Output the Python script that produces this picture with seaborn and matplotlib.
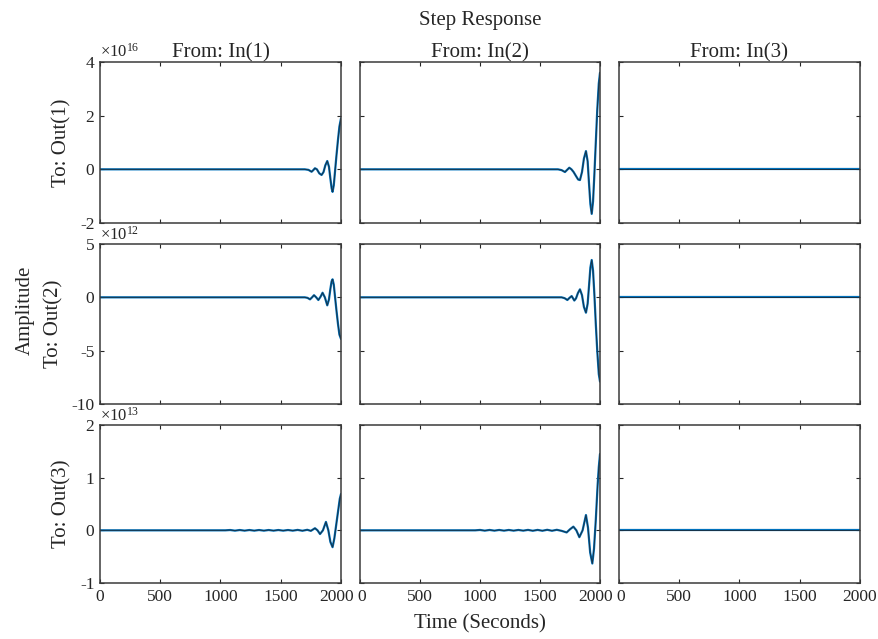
import matplotlib
matplotlib.use('Agg')
import matplotlib.pyplot as plt
import matplotlib.transforms as mtransforms
import seaborn as sns
import pandas as pd
import numpy as np

# step response data (values in units of 10^exp per row)
t11 = [0, 1700, 1730, 1756, 1770, 1784, 1800, 1820, 1839, 1855, 1870, 1886, 1900,
       1912, 1922, 1930, 1940, 1950, 1962, 1975, 1987, 2000]
v11 = [0, 0, -0.02, -0.09, -0.03, 0.04, 0.0, -0.15, -0.21, -0.1, 0.15, 0.31, 0.1,
       -0.35, -0.7, -0.84, -0.6, -0.1, 0.5, 1.1, 1.6, 1.9]

t12 = [0, 1650, 1680, 1708, 1726, 1744, 1762, 1780, 1800, 1818, 1833, 1850, 1866,
       1883, 1897, 1908, 1920, 1931, 1942, 1953, 1965, 1977, 1990, 2000]
v12 = [0, 0, -0.03, -0.1, -0.02, 0.06, 0.0, -0.1, -0.25, -0.38, -0.4, -0.1, 0.4,
       0.68, 0.3, -0.5, -1.3, -1.66, -1.2, -0.2, 1.0, 2.2, 3.2, 3.6]

t21 = [0, 1700, 1722, 1743, 1760, 1776, 1794, 1812, 1830, 1847, 1866, 1886, 1900,
       1912, 1922, 1930, 1940, 1950, 1962, 1975, 1987, 2000]
v21 = [0, 0, -0.05, -0.19, 0.0, 0.2, 0.0, -0.25, 0.05, 0.43, 0.0, -0.75, -0.2,
       0.8, 1.5, 1.69, 1.2, 0.1, -1.2, -2.5, -3.5, -3.9]

t22 = [0, 1680, 1705, 1728, 1746, 1764, 1786, 1800, 1816, 1833, 1850, 1866, 1883,
       1897, 1908, 1920, 1931, 1942, 1953, 1965, 1977, 1990, 2000]
v22 = [0, 0, -0.08, -0.25, -0.05, 0.12, -0.3, -0.1, 0.4, 0.75, 0.2, -0.9, -1.44,
       -0.6, 1.0, 2.8, 3.5, 2.5, 0.3, -2.5, -5.0, -7.2, -7.9]

t31 = [0, 1040, 1080, 1120, 1160, 1200, 1240, 1280, 1320, 1360, 1400, 1440, 1480,
       1520, 1560, 1600, 1640, 1680, 1720, 1750, 1784, 1805, 1826, 1850, 1875,
       1895, 1912, 1930, 1945, 1960, 1975, 1990, 2000]
v31 = [0, 0, 0.006, -0.006, 0.006, -0.006, 0.006, -0.006, 0.006, -0.006, 0.006,
       -0.006, 0.006, -0.006, 0.006, -0.006, 0.008, -0.008, 0.01, -0.01, 0.04, 0.0,
       -0.07, 0.0, 0.16, 0.0, -0.22, -0.32, -0.15, 0.1, 0.35, 0.6, 0.69]

t32 = [0, 960, 1000, 1040, 1080, 1120, 1160, 1200, 1240, 1280, 1320, 1360, 1400,
       1440, 1480, 1520, 1560, 1600, 1640, 1680, 1722, 1750, 1778, 1803, 1828,
       1855, 1883, 1900, 1918, 1936, 1950, 1965, 1980, 1990, 2000]
v32 = [0, 0, 0.007, -0.006, 0.007, -0.006, 0.007, -0.006, 0.007, -0.006, 0.007,
       -0.006, 0.008, -0.008, 0.008, -0.008, 0.01, -0.008, 0.01, -0.01, -0.04, 0.02,
       0.07, 0.0, -0.13, 0.0, 0.29, 0.05, -0.42, -0.63, -0.35, 0.2, 0.85, 1.2, 1.45]

t_flat = [0, 2000]
v_flat = [0, 0]

inputs = ['From: In(1)', 'From: In(2)', 'From: In(3)']
outputs = ['To: Out(1)', 'To: Out(2)', 'To: Out(3)']
row_exp = [16, 12, 13]
row_ylim = [(-2, 4), (-10, 5), (-1, 2)]
row_yticks = [[-2, 0, 2, 4], [-10, -5, 0, 5], [-1, 0, 1, 2]]
xticks = [0, 500, 1000, 1500, 2000]

series = [[(t11, v11), (t12, v12), (t_flat, v_flat)],
          [(t21, v21), (t22, v22), (t_flat, v_flat)],
          [(t31, v31), (t32, v32), (t_flat, v_flat)]]

sns.set_theme(style='white')
plt.rcParams['font.family'] = ['Liberation Serif', 'DejaVu Serif']
plt.rcParams['mathtext.fontset'] = 'custom'
plt.rcParams['mathtext.rm'] = 'Liberation Serif'
plt.rcParams['axes.unicode_minus'] = False

W, H = 879, 639
fig = plt.figure(figsize=(W / 100, H / 100), dpi=100)

cols_px = [(100, 341), (360, 600), (619, 860)]
rows_px = [(62, 223), (244, 404), (425, 583)]
ink = '#262626'

for r in range(3):
    for c in range(3):
        x0, x1 = cols_px[c]
        y0, y1 = rows_px[r]
        ax = fig.add_axes([x0 / W, 1 - y1 / H, (x1 - x0) / W, (y1 - y0) / H])
        t, v = series[r][c]
        df = pd.DataFrame({'t': t, 'v': v})
        sns.lineplot(data=df, x='t', y='v', ax=ax, color='#0072BD', lw=1.6,
                     sort=False, estimator=None)
        sns.lineplot(data=df, x='t', y='v', ax=ax, color='#1c2833', lw=0.7,
                     alpha=0.85, sort=False, estimator=None)
        ax.set_xlim(0, 2000)
        ax.set_ylim(*row_ylim[r])
        ax.set_xticks(xticks)
        ax.set_yticks(row_yticks[r])
        ax.set_xlabel('')
        ax.set_ylabel('')
        ax.tick_params(direction='in', length=3, width=0.8, colors=ink,
                       top=True, right=True, bottom=True, left=True,
                       labelsize=12.5, pad=4)
        if r < 2:
            ax.set_xticklabels([])
        if c > 0:
            ax.set_yticklabels([])
        for s in ax.spines.values():
            s.set_color('#3a3a3a')
            s.set_linewidth(1.1)
        if c == 0:
            ax.set_ylabel(outputs[r], fontsize=15, color=ink, labelpad=6)
            ax.text(0.0, 1.005, r'$\times\mathregular{10^{%d}}$' % row_exp[r],
                    transform=ax.transAxes, ha='left', va='bottom',
                    fontsize=12, color=ink)
        if r == 0:
            ax.set_title(inputs[c], fontsize=15, color=ink, pad=3)
        if r == 2:
            # nudge end labels so "2000" and the next "0" sit side by side
            labs = ax.get_xticklabels()
            if c < 2:
                labs[-1].set_transform(labs[-1].get_transform() +
                                       mtransforms.ScaledTranslation(-0.045, 0, fig.dpi_scale_trans))
            if c > 0:
                labs[0].set_transform(labs[0].get_transform() +
                                      mtransforms.ScaledTranslation(0.02, 0, fig.dpi_scale_trans))

fig.text(480 / W, 1 - 20 / H, 'Step Response', ha='center', va='center',
         fontsize=15, color=ink)
fig.text(480 / W, 1 - 624 / H, 'Time (Seconds)', ha='center', va='center',
         fontsize=15, color=ink)
fig.text(25 / W, 1 - 310 / H, 'Amplitude', ha='center', va='center',
         rotation=90, fontsize=15, color=ink)

fig.savefig('out.png', dpi=100)
